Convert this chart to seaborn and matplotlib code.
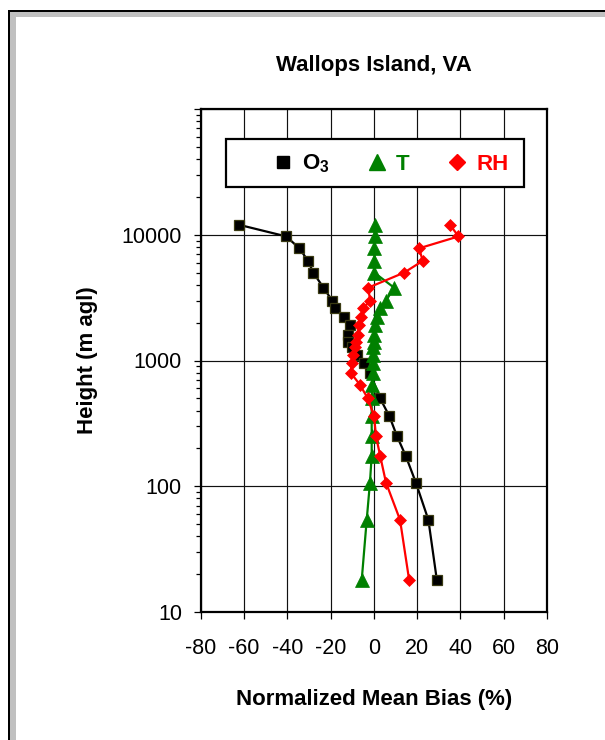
import numpy as np
import pandas as pd
import matplotlib
matplotlib.use("Agg")
import matplotlib.pyplot as plt
import seaborn as sns
from matplotlib.lines import Line2D
from matplotlib.patches import Rectangle
from matplotlib.ticker import FixedLocator, FixedFormatter, LogLocator, NullFormatter

# ---------------- data ----------------
levels_m = [12000, 9700, 7800, 6200, 5000, 3800, 3000, 2600, 2200, 1900, 1600, 1400,
            1275, 1100, 960, 800, 640, 500, 360, 250, 175, 107, 54, 18]
o3_levels_m = [12000, 9700, 7800, 6200, 5000, 3800, 3000, 2600, 2200, 1900, 1600, 1400,
               1275, 1100, 960, 800, 500, 360, 250, 175, 107, 54, 18]
o3_nmb = [-62.3, -40.5, -34.4, -30.4, -28.0, -23.3, -19.3, -17.8, -13.8, -10.9, -11.9, -11.9,
          -10.2, -7.6, -4.4, -1.8, 2.9, 7.2, 10.7, 14.7, 19.4, 25.2, 29.1]
t_nmb = [0.4, 0.4, 0.3, 0.3, 0.2, 9.3, 5.7, 3.0, 1.3, 0.6, 0.2, 0.0,
         -0.2, -0.3, -0.3, -0.5, -0.8, -1.0, -1.0, -1.0, -1.0, -1.8, -3.3, -5.6]
rh_nmb = [35.2, 39.1, 20.9, 22.6, 14.0, -2.5, -1.8, -4.8, -5.9, -7.0, -7.4, -8.2,
          -8.8, -9.5, -10.2, -10.7, -6.4, -2.8, 0.1, 1.0, 2.9, 5.6, 12.1, 16.3]

series_labels = ["O$_\\mathregular{3}$", "T", "RH"]
x_ticks = [-80, -60, -40, -20, 0, 20, 40, 60, 80]
y_ticks = [10, 100, 1000, 10000, 100000]
y_tick_labels = ["10", "100", "1000", "10000", ""]
title = "Wallops Island, VA"
x_label = "Normalized Mean Bias (%)"
y_label = "Height (m agl)"

# ---------------- style ----------------
sns.set_style("white")
FAM = ["Liberation Sans", "DejaVu Sans"]
plt.rcParams["font.family"] = FAM
plt.rcParams["mathtext.fontset"] = "custom"
plt.rcParams["mathtext.rm"] = "Liberation Sans:bold"
plt.rcParams["text.color"] = "black"
plt.rcParams["axes.labelcolor"] = "black"
plt.rcParams["xtick.color"] = "black"
plt.rcParams["ytick.color"] = "black"
plt.rcParams["axes.titlecolor"] = "black"

W, H = 605, 740
fig = plt.figure(figsize=(W / 100, H / 100), dpi=100)
fig.patch.set_facecolor("white")

def fx(px):
    return px / W

def fy(py):
    return 1 - py / H

# outer frame (black line, grey band, white inside)
fig.patches.append(Rectangle((fx(8), fy(760)), fx(620), 750 / H, transform=fig.transFigure,
                             facecolor="black", edgecolor="none", zorder=-3))
fig.patches.append(Rectangle((fx(10), fy(760)), fx(620), 748 / H, transform=fig.transFigure,
                             facecolor="#c0c0c0", edgecolor="none", zorder=-2))
fig.patches.append(Rectangle((fx(16), fy(760)), fx(620), 743 / H, transform=fig.transFigure,
                             facecolor="white", edgecolor="none", zorder=-1))

ax_l, ax_r, ax_t, ax_b = 200.7, 547.0, 109.0, 612.0
ax = fig.add_axes([fx(ax_l), fy(ax_b), (ax_r - ax_l) / W, (ax_b - ax_t) / H])
ax.set_facecolor("white")

df_o3 = pd.DataFrame({"bias": o3_nmb, "height": o3_levels_m})
df_t = pd.DataFrame({"bias": t_nmb, "height": levels_m})
df_rh = pd.DataFrame({"bias": rh_nmb, "height": levels_m})

sns.lineplot(data=df_o3, x="bias", y="height", sort=False, estimator=None, ax=ax,
             color="black", lw=1.6, marker="s", markersize=7.2,
             markeredgecolor="#3a3a12", markeredgewidth=0.9, legend=False, zorder=3)
sns.lineplot(data=df_t, x="bias", y="height", sort=False, estimator=None, ax=ax,
             color="#008000", lw=1.6, marker="^", markersize=9.4,
             markeredgecolor="#008000", markeredgewidth=0.5, legend=False, zorder=3)
sns.lineplot(data=df_rh, x="bias", y="height", sort=False, estimator=None, ax=ax,
             color="#ff0000", lw=1.6, marker="D", markersize=6.2,
             markeredgecolor="#ff0000", markeredgewidth=0.5, legend=False, zorder=3)

ax.set_yscale("log")
ax.set_xlim(-80, 80)
ax.set_ylim(10, 100000)
ax.xaxis.set_major_locator(FixedLocator(x_ticks))
ax.set_xticklabels([str(v) for v in x_ticks])
ax.yaxis.set_major_locator(FixedLocator(y_ticks))
ax.yaxis.set_major_formatter(FixedFormatter(y_tick_labels))
ax.yaxis.set_minor_locator(LogLocator(base=10, subs=np.arange(2, 10)))
ax.yaxis.set_minor_formatter(NullFormatter())

ax.grid(True, which="major", color="#111111", lw=0.85)
ax.set_axisbelow(True)
for s in ax.spines.values():
    s.set_visible(True)
    s.set_color("black")
    s.set_linewidth(1.6)

ax.tick_params(axis="x", which="major", direction="out", length=5, width=0.9,
               pad=14, labelsize=15.5, colors="black", bottom=True)
ax.tick_params(axis="y", which="major", direction="out", length=5, width=0.9,
               pad=8.5, labelsize=15.5, colors="black", left=True)
ax.tick_params(axis="y", which="minor", direction="out", length=3.5, width=0.9,
               left=True, colors="black")
ax.tick_params(axis="x", which="minor", bottom=False)

# title and axis labels
ax.set_title(title, fontsize=16, fontweight="bold", va="baseline", color="black",
             y=(ax_b - 79) / (ax_b - ax_t))
ax.set_xlabel(x_label, fontsize=16, fontweight="bold", color="black")
ax.xaxis.label.set_va("baseline")
ax.xaxis.set_label_coords(0.5, (ax_b - 705) / (ax_b - ax_t))
ax.set_ylabel(y_label, fontsize=16, fontweight="bold", color="black")
ax.yaxis.label.set_va("baseline")
ax.yaxis.set_label_coords((93.3 - ax_l) / (ax_r - ax_l), 0.5)

# legend box
axw, axh = ax_r - ax_l, ax_b - ax_t
ax.add_patch(Rectangle(((226 - ax_l) / axw, (ax_b - 187) / axh), (524 - 226) / axw, (187 - 139) / axh,
                       transform=ax.transAxes, facecolor="white", edgecolor="black",
                       lw=1.6, zorder=5, clip_on=False))
handles = [
    Line2D([], [], ls="none", marker="s", color="black", markersize=8.6),
    Line2D([], [], ls="none", marker="^", color="#008000", markersize=12),
    Line2D([], [], ls="none", marker="D", color="#ff0000", markersize=8.6),
]
leg = ax.legend(handles, series_labels, loc="center left",
                bbox_to_anchor=((276 - ax_l) / axw, (ax_b - 164) / axh),
                ncol=3, frameon=False, borderpad=0, borderaxespad=0,
                handlelength=0.6, handletextpad=0.55, columnspacing=1.85,
                prop=dict(family=FAM, weight="bold", size=16))
leg.set_zorder(6)
for txt, c in zip(leg.get_texts(), ["black", "#008000", "#ff0000"]):
    txt.set_color(c)

fig.savefig("out.png", dpi=100, facecolor="white")
